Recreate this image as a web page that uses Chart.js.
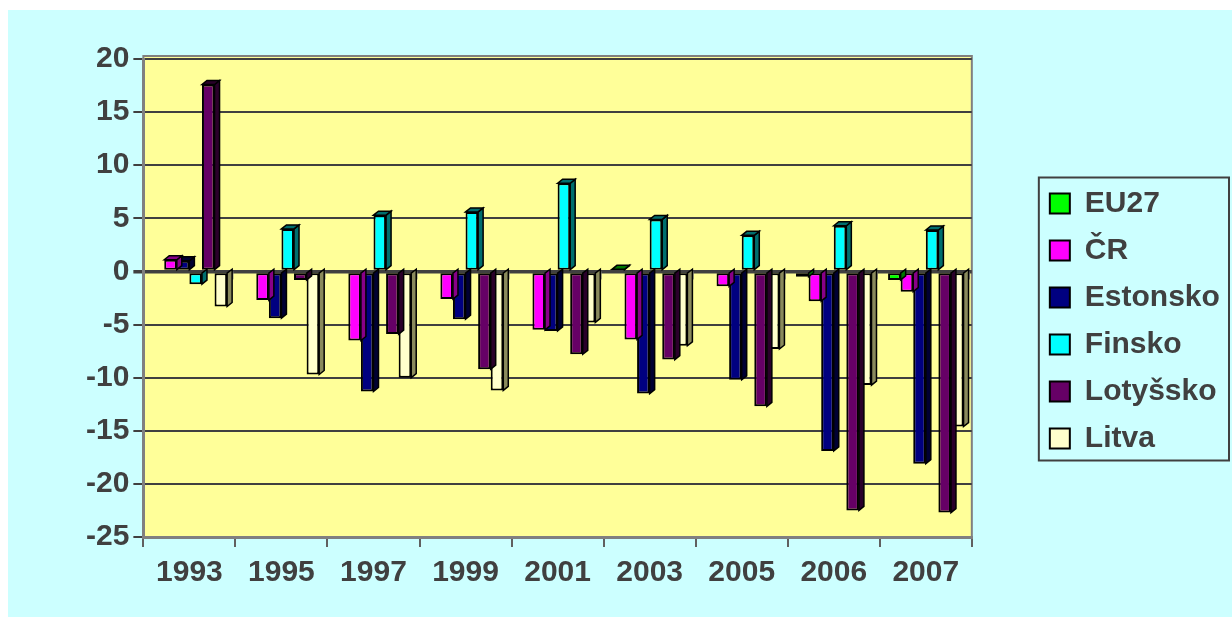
<!DOCTYPE html>
<html>
<head>
<meta charset="utf-8">
<script src="https://cdn.jsdelivr.net/npm/chart.js@4/dist/chart.umd.min.js"></script>
<style>
  html, body { margin: 0; padding: 0; background: #fff; }
  #wrap { position: absolute; left: 8px; top: 10px; width: 1224px; height: 607px; background: #ccffff; }
</style>
</head>
<body>
<div id="wrap"><canvas id="saldo"></canvas></div>
<script>
// Years on the category axis
const years = ['1993', '1995', '1997', '1999', '2001', '2003', '2005', '2006', '2007'];

// Values per country (% )
const eu27     = [null, null, null, null, null, 0.2, 0, -0.5, -0.8];
const cr       = [1.1, -2.7, -6.5, -2.6, -5.5, -6.4, -1.4, -2.8, -1.9];
const estonsko = [1.0, -4.4, -11.3, -4.5, -5.6, -11.5, -10.2, -16.9, -18.1];
const finsko   = [-1.2, 4.0, 5.3, 5.6, 8.3, 4.9, 3.4, 4.3, 3.9];
const lotyssko = [17.6, -0.8, -5.9, -9.2, -7.8, -8.3, -12.7, -22.5, -22.7];
const litva    = [-3.3, -9.7, -10.0, -11.2, -4.8, -7.0, -7.3, -10.7, -14.6];

const textColor = '#404040';
const fontFamily = "'Liberation Sans', Arial, sans-serif";
const depthX = 5;
const depthY = -4;

function series(label, data, color, side) {
    return {
        label: label,
        data: data,
        backgroundColor: color,
        borderColor: '#000000',
        borderWidth: 2,
        borderSkipped: false,
        sideColor: side
    };
}

// Yellow plot area with grey frame, drawn behind everything
const plotBackground = {
    id: 'plotBackground',
    beforeDraw(chart) {
        const { ctx, chartArea } = chart;
        ctx.save();
        ctx.fillStyle = '#ffff99';
        ctx.fillRect(chartArea.left, chartArea.top - 3, chartArea.width, chartArea.height + 3);
        ctx.strokeStyle = '#808080';
        ctx.lineWidth = 2;
        ctx.strokeRect(chartArea.left, chartArea.top - 3, chartArea.width, chartArea.height + 3);
        ctx.restore();
    },
    beforeDatasetsDraw(chart) {
        // short marks hanging from the zero line between years
        const { ctx, scales } = chart;
        const x = scales.x;
        const zero = scales.y.getPixelForValue(0);
        const step = x.width / years.length;
        ctx.save();
        ctx.strokeStyle = '#808080';
        ctx.lineWidth = 2;
        for (let i = 1; i <= years.length; i++) {
            const px = x.left + i * step - 3;
            ctx.beginPath();
            ctx.moveTo(px, zero);
            ctx.lineTo(px, zero + 8);
            ctx.stroke();
        }
        ctx.restore();
    }
};

// Fake 3D: side and top faces drawn before the library paints the front
const bar3d = {
    id: 'bar3d',
    beforeDatasetDraw(chart, args) {
        const ds = chart.data.datasets[args.index];
        const ctx = chart.ctx;
        ctx.save();
        ctx.lineWidth = 1.5;
        ctx.strokeStyle = '#000000';
        ctx.fillStyle = ds.sideColor;
        args.meta.data.forEach((bar, i) => {
            const v = ds.data[i];
            if (v === null || v === 0) return;
            const p = bar.getProps(['x', 'y', 'base', 'width'], true);
            const left = p.x - p.width / 2;
            const right = p.x + p.width / 2;
            const top = Math.min(p.y, p.base);
            const bottom = Math.max(p.y, p.base);
            ctx.beginPath();
            ctx.moveTo(right, top);
            ctx.lineTo(right + depthX, top + depthY);
            ctx.lineTo(right + depthX, bottom + depthY);
            ctx.lineTo(right, bottom);
            ctx.closePath();
            ctx.fill();
            ctx.stroke();
            if (v > 0) {
                ctx.beginPath();
                ctx.moveTo(left, top);
                ctx.lineTo(left + depthX, top + depthY);
                ctx.lineTo(right + depthX, top + depthY);
                ctx.lineTo(right, top);
                ctx.closePath();
                ctx.fill();
                ctx.stroke();
            }
        });
        ctx.restore();
    }
};

// Frame round the legend, legend lifted a little
const legendFrame = {
    id: 'legendFrame',
    afterLayout(chart) {
        chart.legend.top -= 8;
        chart.legend.bottom -= 8;
    },
    afterDraw(chart) {
        const lg = chart.legend;
        const boxes = lg.legendHitBoxes;
        if (!boxes || !boxes.length) return;
        const first = boxes[0];
        const last = boxes[boxes.length - 1];
        const ctx = chart.ctx;
        ctx.save();
        ctx.strokeStyle = '#404040';
        ctx.lineWidth = 2;
        ctx.strokeRect(first.left - 11, first.top - 11,
            chart.width - 3 - (first.left - 11), last.top + last.height + 7 - (first.top - 11));
        ctx.restore();
    }
};

const cntx = document.getElementById('saldo').getContext('2d');

new Chart(cntx, {
    type: 'bar',
    data: {
        labels: years,
        datasets: [
            series('EU27', eu27, '#00ff00', '#007700'),
            series('ČR', cr, '#ff00ff', '#880088'),
            series('Estonsko', estonsko, '#000080', '#000033'),
            series('Finsko', finsko, '#00ffff', '#006e6e'),
            series('Lotyšsko', lotyssko, '#660066', '#2a002a'),
            series('Litva', litva, '#ffffcc', '#8a8a5c')
        ]
    },
    options: {
        responsive: true,
        maintainAspectRatio: false,
        animation: false,
        categoryPercentage: 0.82,
        barPercentage: 1,
        layout: {
            padding: { left: 74, top: 49, right: 9, bottom: 18 }
        },
        scales: {
            x: {
                grid: {
                    offset: true,
                    drawOnChartArea: false,
                    tickLength: 10,
                    color: '#606060',
                    lineWidth: 2
                },
                border: { color: '#808080', width: 3 },
                ticks: {
                    color: textColor,
                    padding: 8,
                    font: { family: fontFamily, size: 30, weight: 'bold' }
                }
            },
            y: {
                min: -25,
                max: 20,
                grid: {
                    color: '#404040',
                    lineWidth: ctx => ctx.tick && ctx.tick.value === 0 ? 3.5 : 2,
                    tickLength: 10
                },
                border: { color: '#808080', width: 3 },
                ticks: {
                    stepSize: 5,
                    color: textColor,
                    padding: 4,
                    font: { family: fontFamily, size: 30, weight: 'bold' }
                }
            },
            // empty axis, only keeps the gap between plot and legend
            gap: {
                position: 'right',
                display: true,
                grid: { display: false, drawTicks: false },
                ticks: { display: false },
                border: { display: false },
                afterFit: s => { s.width = 61; }
            }
        },
        plugins: {
            tooltip: { enabled: false },
            legend: {
                position: 'right',
                labels: {
                    color: textColor,
                    boxWidth: 20,
                    boxHeight: 20,
                    padding: 17,
                    font: { family: fontFamily, size: 30, weight: 'bold' }
                }
            }
        }
    },
    plugins: [plotBackground, bar3d, legendFrame]
});
</script>
</body>
</html>
